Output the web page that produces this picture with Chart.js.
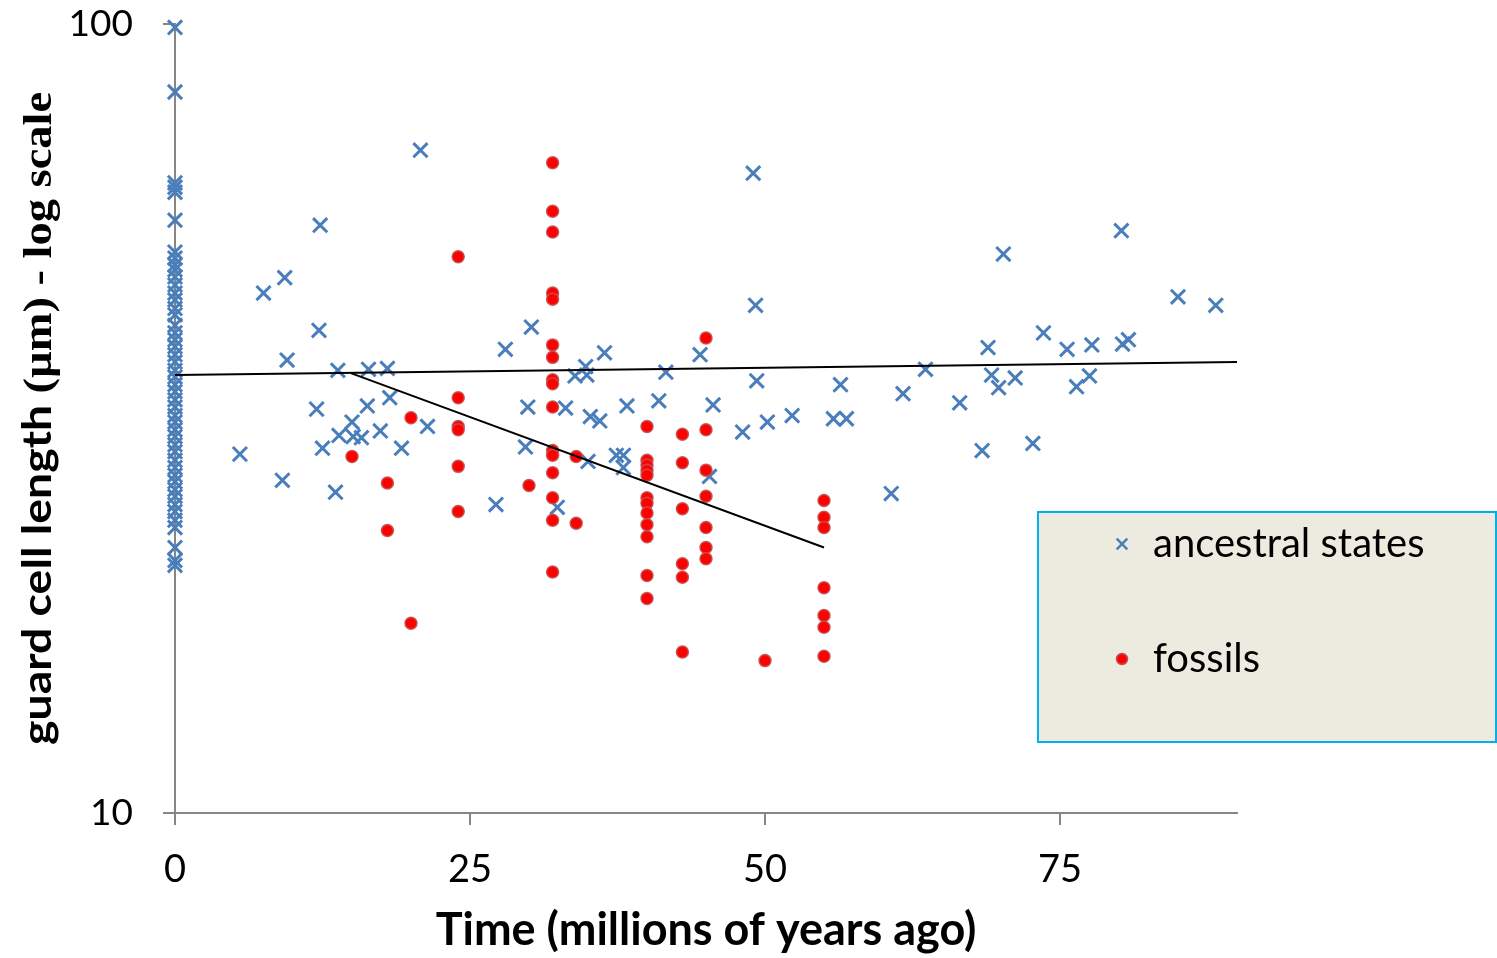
<!DOCTYPE html>
<html>
<head>
<meta charset="utf-8">
<script src="https://cdn.jsdelivr.net/npm/chart.js@4.4.1/dist/chart.umd.min.js"></script>
<style>
  body { margin: 0; background: #fff; }
  canvas { display: block; }
</style>
</head>
<body>
<canvas id="myChart" width="1497" height="958"></canvas>
<script>
'use strict';

// ******** DATA **********

// ancestral states at time 0 (the living species)
let rootLengths = [99, 82, 62.9, 62.1, 61.2, 56.4, 51.4, 50.5, 49.5, 48.8, 47.8, 46.7, 45.6, 44.7, 43.6, 42.8, 41.5, 40.6, 39.8, 39.0, 38.1, 37.3, 36.4, 35.7, 34.9, 34.2, 33.4, 32.7, 31.9, 31.3, 30.6, 30.0, 29.3, 28.7, 28.0, 27.4, 26.8, 26.3, 25.7, 25.2, 24.6, 24.1, 23.5, 23.0, 21.7, 20.9, 20.6];

// other ancestral states
let ancestralAges = [5.5, 7.5, 9.3, 9.5, 9.1, 12.3, 12.2, 12.0, 12.5, 13.6, 13.8, 13.9, 15.0, 15.1, 15.8, 16.3, 16.4, 17.4, 18.0, 18.2, 19.2, 20.8, 21.4, 27.2, 28.0, 29.7, 29.9, 30.2, 32.4, 33.1, 33.9, 34.8, 34.9, 35.2, 36.0, 35.0, 36.4, 37.4, 38.0, 38.0, 38.3, 41.0, 41.6, 44.5, 45.3, 45.6, 48.1, 49.0, 49.2, 49.3, 50.2, 52.3, 56.4, 55.8, 56.9, 60.7, 61.7, 63.6, 66.5, 68.4, 68.9, 69.2, 69.8, 70.2, 71.2, 72.7, 73.6, 75.6, 76.4, 77.5, 77.7, 80.2, 80.3, 80.8, 85.0, 88.2];
let ancestralLengths = [28.5, 45.6, 47.7, 37.5, 26.4, 55.6, 40.9, 32.5, 29.0, 25.5, 36.4, 30.1, 31.3, 30.0, 29.9, 32.8, 36.5, 30.5, 36.6, 33.6, 29.0, 69.2, 30.9, 24.6, 38.7, 29.1, 32.7, 41.3, 24.4, 32.6, 35.8, 36.8, 35.9, 31.8, 31.4, 27.9, 38.3, 28.4, 28.4, 27.4, 32.8, 33.3, 36.2, 38.1, 26.7, 32.9, 30.4, 64.7, 44.0, 35.3, 31.3, 31.9, 34.9, 31.6, 31.6, 25.4, 34.0, 36.5, 33.1, 28.8, 38.9, 35.9, 34.6, 51.1, 35.6, 29.4, 40.6, 38.7, 34.7, 35.8, 39.2, 54.7, 39.3, 39.8, 45.1, 44.0];

// fossils, grouped by age
let fossilAges = [15, 18, 20, 24, 30, 32, 34, 40, 43, 45, 50, 55];
let fossilLengths = [
  [28.3],
  [26.2, 22.8],
  [31.7, 17.4],
  [50.7, 33.6, 30.9, 30.6, 27.5, 24.1],
  [26.0],
  [66.7, 57.9, 54.5, 45.6, 44.8, 39.2, 37.8, 35.4, 35.0, 32.7, 28.8, 28.4, 27.0, 25.1, 23.5, 20.2],
  [28.3, 23.3],
  [30.9, 28.0, 27.6, 27.2, 26.8, 25.1, 24.7, 24.0, 23.2, 22.4, 20.0, 18.7],
  [30.2, 27.8, 24.3, 20.7, 19.9, 16.0],
  [40.0, 30.6, 27.2, 25.2, 23.0, 21.7, 21.0],
  [15.6],
  [24.9, 23.7, 23.0, 19.3, 17.8, 17.2, 15.8]
];

// trend lines (straight on the log axis)
let trendAllAges = [0, 90];
let trendAllLengths = [35.9, 37.3];
let trendFossilAges = [14.9, 55];
let trendFossilLengths = [36.1, 21.7];

let xTicks = [0, 25, 50, 75];
let yTicks = [10, 100];

let xTitle = 'Time (millions of years ago)';
let yTitleSans = 'guard cell length ';
let yTitleSerif = '(\u00b5m) - log scale';
let legendLabels = ['ancestral states', 'fossils'];

// ******** HELPERS **********

function makePoints(ages, lengths) {
  let pts = [];
  for (let i = 0; i < ages.length; i++) {
    pts.push({ x: ages[i], y: lengths[i] });
  }
  return pts;
}

let ancestralPoints = [];
for (let i = 0; i < rootLengths.length; i++) {
  ancestralPoints.push({ x: 0, y: rootLengths[i] });
}
ancestralPoints = ancestralPoints.concat(makePoints(ancestralAges, ancestralLengths));

let fossilPoints = [];
for (let i = 0; i < fossilAges.length; i++) {
  for (let j = 0; j < fossilLengths[i].length; j++) {
    fossilPoints.push({ x: fossilAges[i], y: fossilLengths[i][j] });
  }
}

let blue = '#4A7EBB';
let red = '#FF0000';
let axisGrey = '#868686';

// ******** PLUGIN: axis titles and boxed legend **********

let titlesAndLegend = {
  id: 'titlesAndLegend',
  afterDraw(chart) {
    let c = chart.ctx;
    let area = chart.chartArea;
    c.save();
    c.fillStyle = '#000';

    c.font = 'bold 45px Lato';
    c.textAlign = 'center';
    c.textBaseline = 'alphabetic';
    c.fillText(xTitle, (area.left + area.right) / 2, 945);

    // y title: sans part + serif part, stretched along the text to fit
    c.save();
    c.translate(51, (area.top + area.bottom) / 2);
    c.rotate(-Math.PI / 2);
    let sansFont = 'bold 40px Lato';
    let serifFont = 'bold 40px "Liberation Serif"';
    c.font = sansFont;
    let w1 = c.measureText(yTitleSans).width;
    c.font = serifFont;
    let w2 = c.measureText(yTitleSerif).width;
    c.scale(653 / (w1 + w2), 1);
    let start = -(w1 + w2) / 2;
    c.textAlign = 'left';
    c.font = sansFont;
    c.fillText(yTitleSans, start, 0);
    c.font = serifFont;
    c.fillText(yTitleSerif, start + w1, 0);
    c.restore();

    // legend box
    c.fillStyle = '#EDEBE0';
    c.fillRect(1038, 512, 458, 230);
    c.strokeStyle = '#00B0F0';
    c.lineWidth = 2;
    c.strokeRect(1038, 512, 458, 230);

    c.strokeStyle = blue;
    c.lineWidth = 2.5;
    Chart.helpers.drawPoint(c, { pointStyle: 'crossRot', radius: 7.5, borderWidth: 2.5, rotation: 0 }, 1122, 544);
    c.fillStyle = red;
    c.strokeStyle = '#C0504D';
    c.lineWidth = 1.5;
    Chart.helpers.drawPoint(c, { pointStyle: 'circle', radius: 5.5, borderWidth: 1.5, rotation: 0 }, 1122, 659);

    c.fillStyle = '#000';
    c.font = '40px Lato';
    c.textAlign = 'left';
    c.textBaseline = 'middle';
    c.fillText(legendLabels[0], 1153, 544);
    c.fillText(legendLabels[1], 1153, 659);
    c.restore();
  }
};

// ******** CHART **********

let ctx = document.getElementById('myChart').getContext('2d');

let myChartObj = {
  type: 'scatter',
  data: {
    datasets: [
      {
        label: 'trend all',
        data: makePoints(trendAllAges, trendAllLengths),
        showLine: true,
        borderColor: '#000',
        borderWidth: 2,
        pointRadius: 0
      },
      {
        label: 'trend fossils',
        data: makePoints(trendFossilAges, trendFossilLengths),
        showLine: true,
        borderColor: '#000',
        borderWidth: 2,
        pointRadius: 0
      },
      {
        label: legendLabels[1],
        data: fossilPoints,
        pointStyle: 'circle',
        pointRadius: 6,
        backgroundColor: red,
        borderColor: 'rgba(192, 80, 77, 0.9)',
        borderWidth: 1.5,
        clip: false
      },
      {
        label: legendLabels[0],
        data: ancestralPoints,
        pointStyle: 'crossRot',
        pointRadius: 10,
        borderColor: blue,
        backgroundColor: blue,
        borderWidth: 3,
        clip: false
      }
    ]
  },
  options: {
    responsive: false,
    animation: false,
    devicePixelRatio: 1,
    layout: { padding: { left: 0, top: 24, right: 260, bottom: 0 } },
    plugins: {
      legend: { display: false },
      tooltip: { enabled: false }
    },
    scales: {
      x: {
        type: 'linear',
        min: 0,
        max: 90,
        afterBuildTicks: function (scale) {
          scale.ticks = xTicks.map(function (v) { return { value: v }; });
        },
        afterFit: function (scale) {
          scale.height = 958 - 813;
          scale.paddingLeft = 0;
          scale.paddingRight = 0;
        },
        ticks: {
          color: '#000',
          font: { family: 'Lato', size: 38 },
          padding: 22,
          maxRotation: 0
        },
        grid: { drawOnChartArea: false, drawTicks: true, tickLength: 12, color: axisGrey, lineWidth: 2 },
        border: { color: axisGrey, width: 2 }
      },
      y: {
        type: 'logarithmic',
        min: 10,
        max: 100,
        afterBuildTicks: function (scale) {
          scale.ticks = yTicks.map(function (v) { return { value: v }; });
        },
        afterFit: function (scale) {
          scale.width = 175;
          scale.paddingTop = 0;
          scale.paddingBottom = 0;
        },
        ticks: {
          color: '#000',
          font: { family: 'Lato', size: 37 },
          padding: 30,
          callback: function (value) { return String(value); }
        },
        grid: { drawOnChartArea: false, drawTicks: true, tickLength: 12, color: axisGrey, lineWidth: 2 },
        border: { color: axisGrey, width: 2 }
      }
    }
  },
  plugins: [titlesAndLegend]
};

new Chart(ctx, myChartObj);
</script>
</body>
</html>
